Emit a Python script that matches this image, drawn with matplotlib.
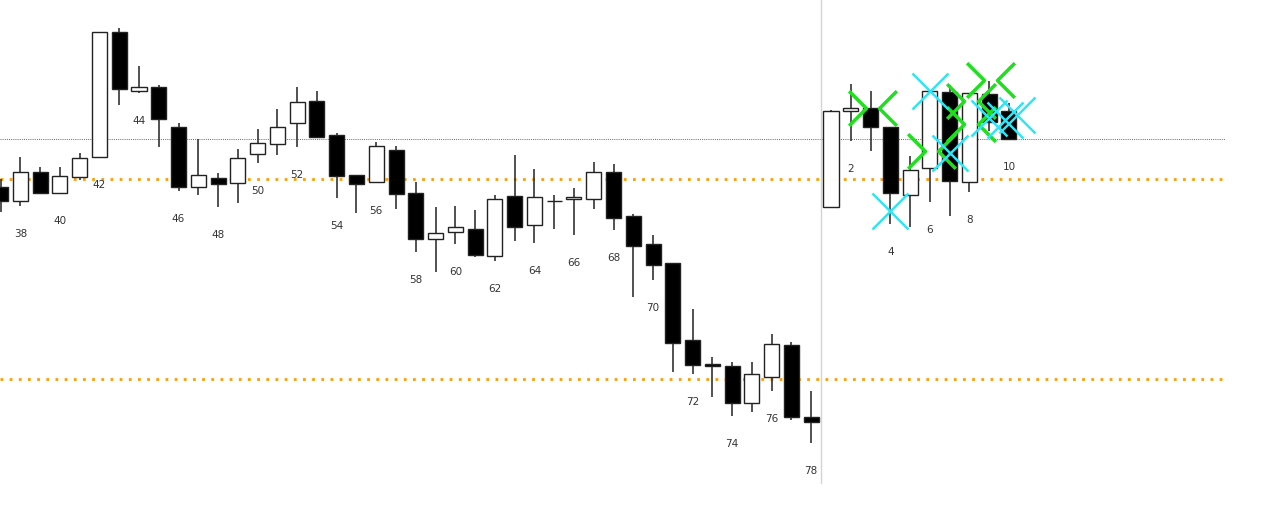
import matplotlib
matplotlib.use("Agg")
import matplotlib.pyplot as plt
from matplotlib.path import Path

# bar numbers as printed under the candles (old session 37..78, new session 1..10)
bar_nums = list(range(37, 79)) + list(range(1, 11))

opens = [131.3, 129.9, 132.8, 130.7, 132.3, 134.3, 146.8, 140.9, 141.3, 137.3,
         131.3, 132.2, 131.7, 134.6, 135.6, 137.7, 139.9, 136.5, 132.5, 131.8,
         135.0, 130.7, 126.1, 126.8, 127.1, 124.4, 130.4, 127.5, 129.9, 130.1,
         130.1, 132.8, 128.4, 125.6, 123.7, 116.0, 113.6, 113.4, 109.7, 112.3,
         115.5, 108.3,
         129.3, 138.9, 139.2, 137.3, 130.5, 133.2, 140.8, 131.8, 140.6, 138.9]
highs = [132.1, 134.3, 133.3, 133.3, 134.7, 146.8, 147.2, 143.4, 141.5, 137.7,
         136.1, 132.7, 135.1, 137.1, 139.1, 141.3, 140.9, 136.7, 132.5, 135.8,
         135.4, 131.8, 129.3, 129.4, 129.0, 130.5, 134.5, 133.1, 130.5, 131.2,
         133.8, 133.6, 128.6, 126.5, 123.7, 119.1, 114.3, 113.8, 113.8, 116.6,
         115.8, 110.9,
         139.0, 141.6, 140.9, 137.3, 134.4, 140.9, 141.5, 140.7, 141.9, 139.7]
lows = [128.8, 129.4, 130.7, 130.7, 132.0, 134.3, 139.5, 140.7, 135.3, 130.9,
        130.5, 129.3, 129.7, 133.7, 134.5, 135.3, 136.2, 130.2, 128.7, 131.7,
        129.1, 124.8, 122.8, 125.6, 124.3, 123.9, 125.9, 125.7, 127.1, 126.5,
        129.1, 127.0, 120.3, 122.0, 112.8, 112.6, 110.3, 108.4, 108.8, 110.9,
        108.0, 105.7,
        129.2, 135.9, 134.9, 127.6, 127.3, 129.8, 128.4, 130.8, 136.9, 136.1]
closes = [129.9, 132.8, 130.7, 132.4, 134.2, 146.8, 141.1, 141.3, 138.1, 131.3,
          132.5, 131.6, 134.2, 135.7, 137.3, 139.8, 136.3, 132.4, 131.6, 135.4,
          130.6, 126.1, 126.7, 127.3, 124.5, 130.1, 127.3, 130.3, 129.9, 130.3,
          132.8, 128.2, 125.4, 123.5, 115.7, 113.5, 113.4, 109.7, 112.6, 115.6,
          108.3, 107.8,
          138.9, 139.2, 137.3, 130.7, 133.0, 140.9, 131.9, 140.7, 137.8, 136.1]

# levels
prev_close_level = 136.1
orange_levels = [132.1, 112.1]

# signals on the new session (bar number, price)
green_bars = [3, 6, 8, 8, 9]
green_prices = [139.2, 134.9, 139.9, 137.6, 142.0]
cyan_bars = [4, 6, 7, 9, 9.8, 10.4]
cyan_prices = [128.9, 140.9, 134.7, 138.2, 138.0, 138.5]

n_old = 42
idx = list(range(len(bar_nums)))


def pos(b):
    # new session bar number -> x position
    return n_old - 1 + b


fig = plt.figure(figsize=(12.8, 5.12), dpi=100)
ax = fig.add_axes([0, 0, 1, 1])
ax.set_xlim(-0.03, 64.71)
ax.set_ylim(98.8, 150)
ax.axis("off")

# levels
ax.axhline(prev_close_level, xmax=0.957, color="#666666", lw=0.7,
           linestyle=(0, (1, 1.2)), zorder=1)
for lv in orange_levels:
    ax.axhline(lv, xmax=0.957, color="#ff9c00", lw=2.0,
               linestyle=(0, (1, 2.3)), zorder=1)
ax.axvline(n_old - 0.5, ymin=0.057, color="#d4d4d4", lw=1, zorder=1)

# candles
ax.vlines(idx, lows, highs, color="#333333", lw=1.2, zorder=2)
bottoms = [min(o, c) for o, c in zip(opens, closes)]
heights = [abs(c - o) for o, c in zip(opens, closes)]
colors = ["black" if c < o else "white" for o, c in zip(opens, closes)]
ax.bar(idx, heights, bottom=bottoms, width=0.76, color=colors,
       edgecolor="#222222", lw=1, zorder=3)

# bar numbers under every second candle
for i, b in enumerate(bar_nums):
    if b % 2 == 0:
        ax.annotate(str(b), (i, lows[i]), xytext=(0, -20), textcoords="offset points",
                    ha="center", va="center", fontsize=7.5, color="#333333")

# green chevrons either side of the signal candle
right_chev = Path([(-1, 1), (0, 0), (-1, -1)], [Path.MOVETO, Path.LINETO, Path.LINETO])
left_chev = Path([(1, 1), (0, 0), (1, -1)], [Path.MOVETO, Path.LINETO, Path.LINETO])
gx = [pos(b) for b in green_bars]
ax.plot([x - 0.25 for x in gx], green_prices, linestyle="none", marker=right_chev,
        markersize=25, markerfacecolor="none", markeredgecolor="#1ee01e",
        markeredgewidth=2.5, zorder=5)
ax.plot([x + 0.42 for x in gx], green_prices, linestyle="none", marker=left_chev,
        markersize=25, markerfacecolor="none", markeredgecolor="#1ee01e",
        markeredgewidth=2.5, zorder=5)

# cyan crosses
ax.plot([pos(b) for b in cyan_bars], cyan_prices, linestyle="none", marker="x",
        markersize=26, markeredgecolor="#33e4f4", markeredgewidth=1.8, zorder=6)

fig.savefig("out.png", dpi=100, facecolor="white")
